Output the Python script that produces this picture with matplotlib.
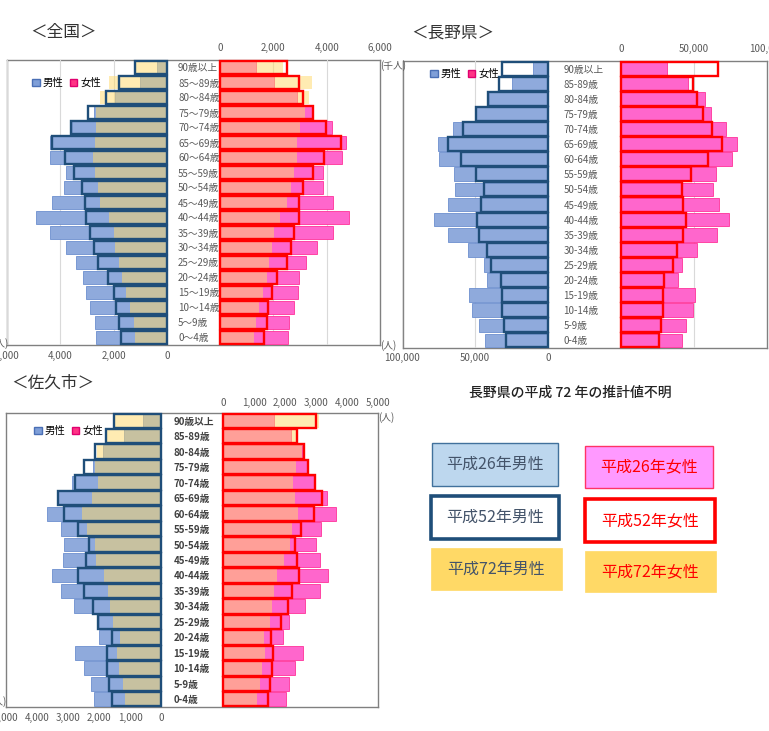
import numpy as np
import matplotlib
matplotlib.use("Agg")
import matplotlib.pyplot as plt
from matplotlib.patches import Patch, Rectangle

plt.rcParams['font.family'] = ['Noto Sans CJK JP', 'DejaVu Sans']

# age groups, bottom (0-4) to top (90+)
ages_zenkoku = ["0〜4歳", "5〜9歳", "10〜14歳", "15〜19歳", "20〜24歳", "25〜29歳",
                "30〜34歳", "35〜39歳", "40〜44歳", "45〜49歳", "50〜54歳", "55〜59歳",
                "60〜64歳", "65〜69歳", "70〜74歳", "75〜79歳", "80〜84歳", "85〜89歳", "90歳以上"]
ages_local = ["0-4歳", "5-9歳", "10-14歳", "15-19歳", "20-24歳", "25-29歳",
              "30-34歳", "35-39歳", "40-44歳", "45-49歳", "50-54歳", "55-59歳",
              "60-64歳", "65-69歳", "70-74歳", "75-79歳", "80-84歳", "85-89歳", "90歳以上"]

# 全国 (千人)
zk_m26 = [2650, 2710, 2900, 3040, 3160, 3400, 3775, 4375, 4910, 4310, 3875, 3775, 4375, 4400, 3560, 2730, 1940, 1025, 375]
zk_m52 = [1725, 1810, 1900, 1975, 2225, 2590, 2725, 2900, 3025, 3060, 3190, 3475, 3840, 4310, 3600, 2960, 2275, 1810, 1190]
zk_m72 = [1190, 1250, 1375, 1525, 1690, 1810, 1940, 2000, 2190, 2500, 2600, 2690, 2775, 2690, 2650, 2660, 2525, 2190, 1150]
zk_f26 = [2540, 2575, 2790, 2940, 2975, 3225, 3650, 4250, 4840, 4250, 3875, 3850, 4560, 4710, 4210, 3440, 2900, 2025, 1350]
zk_f52 = [1650, 1750, 1810, 1940, 2150, 2500, 2650, 2775, 2960, 2960, 3100, 3475, 3900, 4525, 3975, 3475, 3100, 2975, 2500]
zk_f72 = [1275, 1350, 1450, 1600, 1750, 1850, 1960, 2025, 2250, 2525, 2660, 2775, 2900, 2900, 3000, 3190, 3350, 3440, 2350]

# 長野県 (人)
ng_m26 = [43400, 47000, 52000, 53900, 42000, 43600, 54600, 68300, 77900, 68300, 63700, 64200, 74400, 75100, 65300, 49300, 40200, 24400, 10000]
ng_m52 = [29000, 30100, 31300, 31300, 32200, 39300, 42000, 47000, 48400, 45900, 43800, 49500, 59600, 68300, 58000, 49500, 40900, 33300, 31700]
ng_f26 = [41600, 44300, 49100, 50700, 39300, 41600, 52300, 66000, 74200, 67300, 63200, 65100, 75800, 79200, 71900, 61400, 57500, 45700, 31300]
ng_f52 = [26300, 27400, 28500, 29000, 29700, 35800, 38100, 42700, 44500, 42200, 41600, 47900, 59400, 69400, 62600, 56400, 51800, 49100, 66200]

# 佐久市 (人)
sk_m26 = [2150, 2260, 2470, 2770, 1990, 2000, 2810, 3240, 3530, 3170, 3120, 3240, 3690, 3340, 2880, 2200, 1860, 1190, 570]
sk_m52 = [1590, 1680, 1730, 1750, 1590, 2040, 2180, 2470, 2690, 2430, 2310, 2670, 3120, 3310, 2770, 2500, 2130, 1775, 1515]
sk_m72 = [1160, 1240, 1350, 1430, 1320, 1560, 1645, 1700, 1840, 2100, 2130, 2400, 2560, 2240, 2040, 2130, 2075, 1750, 1480]
sk_f26 = [2040, 2120, 2310, 2580, 1935, 2120, 2630, 3120, 3375, 3120, 3010, 3160, 3640, 3350, 2920, 2710, 2560, 2200, 1630]
sk_f52 = [1450, 1525, 1580, 1610, 1550, 1880, 2085, 2225, 2440, 2390, 2330, 2525, 2945, 3190, 2960, 2730, 2600, 2390, 3010]
sk_f72 = [1100, 1180, 1270, 1345, 1330, 1505, 1580, 1655, 1740, 1980, 2150, 2225, 2420, 2330, 2260, 2365, 2550, 2350, 3085]

BLUE = "#8faadc"
BLUE_EDGE = "#6d8fcf"
PINK = "#ff66cc"
PINK_EDGE = "#ff3399"
YELLOW = "#ffd966"
NAVY = "#1f4e79"
RED = "#ff0000"
GREY = "#595959"

W, H = 769, 731
fig = plt.figure(figsize=(W / 100, H / 100), dpi=100)


def rect(x0, y0, x1, y1):
    return [x0 / W, 1 - y1 / H, (x1 - x0) / W, (y1 - y0) / H]


def draw_pyramid(frame, male_box, female_box, xmax, step, labels,
                 m26, m52, m72, f26, f52, f72, legend_xy,
                 grid=True, bold=False, top_pad=5, bottom_pad=4, label_pad=8):
    ax_fr = fig.add_axes(rect(*frame))
    ax_fr.set_xticks([])
    ax_fr.set_yticks([])
    for s in ax_fr.spines.values():
        s.set_color("#808080")
        s.set_linewidth(1.0)

    y = np.arange(len(labels))
    ticks = np.arange(0, xmax + 1, step)
    ticklabels = ["{:,}".format(t) for t in ticks]

    ax_m = fig.add_axes(rect(*male_box))
    ax_f = fig.add_axes(rect(*female_box))
    for ax, v26, v52, v72, c26, e26, c52 in [
            (ax_m, m26, m52, m72, BLUE, BLUE_EDGE, NAVY),
            (ax_f, f26, f52, f72, PINK, PINK_EDGE, RED)]:
        ax.patch.set_alpha(0)
        ax.barh(y, v26, height=0.9, color=c26, edgecolor=e26, linewidth=0.6, zorder=2, clip_on=False)
        if v72 is not None:
            ax.barh(y, v72, height=0.9, color=YELLOW, alpha=0.5, linewidth=0, zorder=3, clip_on=False)
        ax.barh(y, v52, height=0.93, fill=False, edgecolor=c52, linewidth=1.7, zorder=4, clip_on=False)
        ax.set_ylim(-0.5, len(labels) - 0.5)
        ax.set_xticks(ticks)
        ax.set_xticklabels(ticklabels)
        for s in ax.spines.values():
            s.set_visible(False)
        if grid:
            ax.grid(axis="x", color="#d9d9d9", linewidth=0.8)
            ax.set_axisbelow(True)

    ax_m.set_xlim(xmax, 0)
    ax_f.set_xlim(0, xmax)
    ax_m.tick_params(axis="x", length=0, labelsize=7, labelcolor=GREY, pad=bottom_pad)
    ax_f.xaxis.tick_top()
    ax_f.tick_params(axis="x", length=0, labelsize=7, labelcolor=GREY, pad=top_pad)
    ax_f.set_yticks([])

    ax_m.yaxis.tick_right()
    ax_m.set_yticks(y)
    ax_m.set_yticklabels(labels, fontsize=7,
                         color="#404040" if bold else GREY,
                         fontweight="bold" if bold else "normal")
    ax_m.tick_params(axis="y", length=0, pad=label_pad)

    handles = [Patch(facecolor="#7f9fd8", edgecolor="#4a6fb5"),
               Patch(facecolor="#ff3385", edgecolor="#e0006f")]
    fig.legend(handles, ["男性", "女性"], loc="center left",
               bbox_to_anchor=(legend_xy[0] / W, 1 - legend_xy[1] / H),
               ncol=2, frameon=False, fontsize=7.5, borderpad=0,
               handlelength=0.7, handleheight=0.7, handletextpad=0.3,
               columnspacing=0.6)


# 全国
draw_pyramid((7, 60, 380, 345), (7, 60, 167, 345), (220, 60, 380, 345), 6000, 2000,
             ages_zenkoku, zk_m26, zk_m52, zk_m72, zk_f26, zk_f52, zk_f72,
             (27, 83), top_pad=5, bottom_pad=4, label_pad=8)

# 長野県
draw_pyramid((403, 61, 767, 348), (402, 61, 548, 348), (621, 61, 767, 348), 100000, 50000,
             ages_local, ng_m26, ng_m52, None, ng_f26, ng_f52, None,
             (425, 74), top_pad=5, bottom_pad=3.5, label_pad=11)

# 佐久市
draw_pyramid((6, 413, 378, 707), (6, 413, 161, 707), (223, 413, 378, 707), 5000, 1000,
             ages_local, sk_m26, sk_m52, sk_m72, sk_f26, sk_f52, sk_f72,
             (29, 431), grid=False, bold=True, top_pad=3.5, bottom_pad=4, label_pad=9)

# overlay for titles, unit labels and colour key boxes
ov = fig.add_axes([0, 0, 1, 1])
ov.set_xlim(0, W)
ov.set_ylim(H, 0)
ov.axis("off")
ov.patch.set_alpha(0)

ov.text(30, 32, "＜全国＞", fontsize=12, color="#333333", va="center")
ov.text(411, 33, "＜長野県＞", fontsize=12, color="#333333", va="center")
ov.text(11, 383, "＜佐久市＞", fontsize=12, color="#333333", va="center")

ov.text(380, 66, "(千人)", fontsize=7, color=GREY, va="center", ha="left")
ov.text(380, 346, "(人)", fontsize=7, color=GREY, va="center", ha="left")
ov.text(8, 344, "(人)", fontsize=7, color=GREY, va="center", ha="right")
ov.text(378, 418, "(人)", fontsize=7, color=GREY, va="center", ha="left")
ov.text(6, 702, "(人)", fontsize=7, color=GREY, va="center", ha="right")

ov.text(570, 393, "長野県の平成 72 年の推計値不明", fontsize=10, color="#222222",
        ha="center", va="center", fontweight="medium")

key_labels = ["平成26年男性", "平成26年女性", "平成52年男性", "平成52年女性", "平成72年男性", "平成72年女性"]
key_boxes = [(432, 443, 558, 486), (585, 446, 713, 488), (431, 496, 559, 539),
             (585, 499, 715, 542), (431, 548, 562, 590), (585, 551, 716, 592)]
key_face = ["#bdd7ee", "#ff99ff", "white", "white", YELLOW, YELLOW]
key_edge = ["#41719c", "#ff3366", NAVY, RED, YELLOW, YELLOW]
key_lw = [1.0, 1.0, 2.6, 2.6, 0.5, 0.5]
key_text = ["#44546a", RED, "#44546a", RED, "#44546a", RED]

for lab, (x0, y0, x1, y1), fc, ec, lw, tc in zip(key_labels, key_boxes, key_face, key_edge, key_lw, key_text):
    ov.add_patch(Rectangle((x0, y0), x1 - x0, y1 - y0, facecolor=fc, edgecolor=ec, linewidth=lw))
    ov.text((x0 + x1) / 2, (y0 + y1) / 2, lab, fontsize=11.5, color=tc, ha="center", va="center")

fig.savefig("out.png", dpi=100)
